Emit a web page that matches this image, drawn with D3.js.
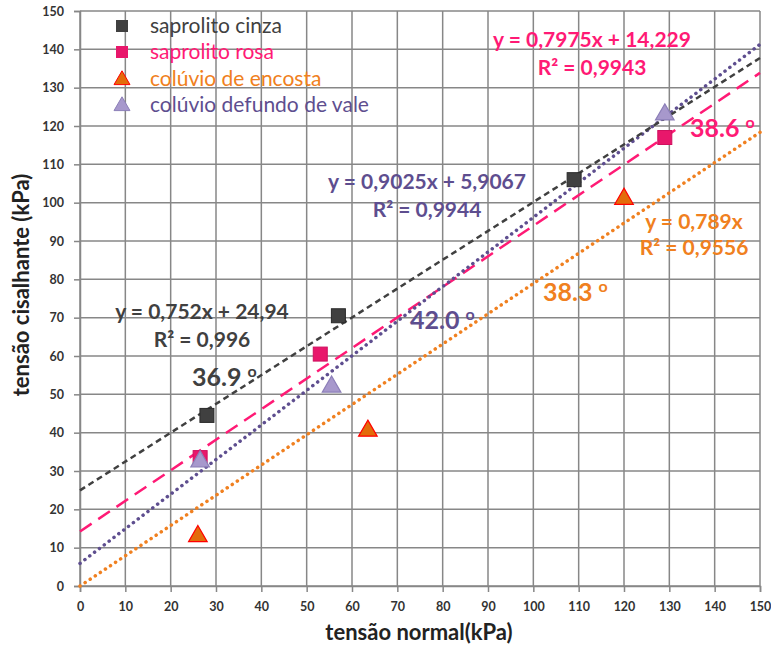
<!DOCTYPE html>
<html><head><meta charset="utf-8">
<script src="https://cdn.jsdelivr.net/npm/d3@7"></script>
<style>body{margin:0;background:#fff}svg{display:block}text{font-family:Lato,"Open Sans",sans-serif}</style>
</head><body><svg id="c" width="771" height="648"></svg>
<script>
const seriesNames = ["saprolito cinza","saprolito rosa","colúvio de encosta","colúvio defundo de vale"];
const cinzaX = [28, 57, 109], cinzaY = [44.5, 70.5, 106];
const rosaX = [26.5, 53, 129], rosaY = [33.5, 60.5, 117];
const encostaX = [26, 63.5, 120], encostaY = [13.5, 41, 101.5];
const valeX = [26.5, 55.5, 129], valeY = [33, 52.5, 123.5];
const slopes = [0.752, 0.7975, 0.789, 0.9025];
const intercepts = [24.94, 14.229, 0, 5.9067];
const eqLabels = [["y = 0,752x + 24,94","R² = 0,996"],["y = 0,7975x + 14,229","R² = 0,9943"],["y = 0,789x","R² = 0,9556"],["y = 0,9025x + 5,9067","R² = 0,9944"]];
const angleLabels = ["36.9","38.6","38.3","42.0"];
const xTicks = d3.range(0,151,10), yTicks = d3.range(0,151,10);

const svg = d3.select("#c");
const x = d3.scaleLinear().domain([0,150]).range([80,760]);
const y = d3.scaleLinear().domain([0,150]).range([586,11]);
const colors = ["#404040","#ff1a75","#f08020","#5e4e8f"];
const lineCol = ["#404040","#ff1a75","#f08020","#5e4e8f"];

// grid
const g = svg.append("g");
g.selectAll(".vx").data(xTicks).join("line").attr("x1",d=>x(d)).attr("x2",d=>x(d)).attr("y1",y(0)).attr("y2",y(150)).attr("stroke","#878787").attr("stroke-width",1.5);
g.selectAll(".hy").data(yTicks).join("line").attr("y1",d=>y(d)).attr("y2",d=>y(d)).attr("x1",x(0)).attr("x2",x(150)).attr("stroke","#878787").attr("stroke-width",1.5);

// axes
const xa = svg.append("g").attr("transform",`translate(0,${y(0)})`).call(d3.axisBottom(x).tickValues(xTicks).tickSize(6).tickPadding(10));
const ya = svg.append("g").attr("transform",`translate(${x(0)},0)`).call(d3.axisLeft(y).tickValues(yTicks).tickSize(6).tickPadding(10));
[xa,ya].forEach(a=>{a.select(".domain").attr("stroke","#878787").attr("stroke-width",1.5);
 a.selectAll(".tick line").attr("stroke","#878787").attr("stroke-width",1.5);
 a.selectAll("text").attr("font-size",12.5).attr("font-weight","bold").attr("fill","#333").style("font-family","Lato");});

// trendlines
const dashes = ["6,4","14,8","0.1,6","0.1,6"];
const caps = ["butt","butt","round","round"];
const widths = [2.5,2.5,3.5,3.5];
const order = [2,1,3,0];
order.forEach(i=>{
  svg.append("line").attr("x1",x(0)).attr("y1",y(intercepts[i])).attr("x2",x(150)).attr("y2",y(intercepts[i]+slopes[i]*150))
   .attr("stroke",lineCol[i]).attr("stroke-width",widths[i]).attr("stroke-dasharray",dashes[i]).attr("stroke-linecap",caps[i]);
});

// markers
function square(xs,ys,fill,stroke){svg.append("g").selectAll("rect").data(xs.map((v,k)=>[v,ys[k]])).join("rect")
 .attr("x",d=>x(d[0])-7).attr("y",d=>y(d[1])-7).attr("width",14).attr("height",14).attr("fill",fill).attr("stroke",stroke).attr("stroke-width",1);}
function tri(xs,ys,fill,stroke){svg.append("g").selectAll("path").data(xs.map((v,k)=>[v,ys[k]])).join("path")
 .attr("d",d3.symbol(d3.symbolTriangle,150)).attr("transform",d=>`translate(${x(d[0])},${y(d[1])+2})`).attr("fill",fill).attr("stroke",stroke).attr("stroke-width",1.2);}
square(cinzaX,cinzaY,"#404040","#2a2a2a");
square(rosaX,rosaY,"#e8176b","#d0105f");
tri(encostaX,encostaY,"#e36c0a","#ff0000");
tri(valeX,valeY,"#a798cc","#8c7fb8");

// legend
const legY=[26,52,79,105];
seriesNames.forEach((n,i)=>{
  const cy=legY[i];
  if(i<2) svg.append("rect").attr("x",116).attr("y",cy-6).attr("width",12).attr("height",12).attr("fill",i==0?"#404040":"#e8176b");
  else svg.append("path").attr("d",d3.symbol(d3.symbolTriangle,110)).attr("transform",`translate(122,${cy+1})`).attr("fill",i==2?"#e36c0a":"#a798cc").attr("stroke",i==2?"#ff0000":"#8c7fb8");
  svg.append("text").attr("x",150).attr("y",cy+7).attr("font-size",21).attr("fill",colors[i]).text(n);
});

// equations
const eqPos = [[202,312,340],[592,40,68],[694,222,248],[427,182,210]];
eqLabels.forEach((l,i)=>{
  const p=eqPos[i];
  svg.append("text").attr("x",p[0]).attr("y",p[1]+7).attr("text-anchor","middle").attr("font-size",21).attr("font-weight","bold").attr("fill",colors[i]).text(l[0]);
  svg.append("text").attr("x",p[0]).attr("y",p[2]+7).attr("text-anchor","middle").attr("font-size",21).attr("font-weight","bold").attr("fill",colors[i]).text(l[1]);
});
const angPos = [[192,377],[690,128],[543,292],[410,320]];
angleLabels.forEach((a,i)=>{
  const t=svg.append("text").attr("x",angPos[i][0]).attr("y",angPos[i][1]+9).attr("font-size",25).attr("font-weight","bold").attr("fill",colors[i]);
  t.append("tspan").text(a+" ");
  t.append("tspan").attr("font-size",16).attr("dy",-9).text("o");
});

// axis titles
svg.append("text").attr("x",419).attr("y",640).attr("text-anchor","middle").attr("font-size",22).attr("font-weight","bold").attr("fill","#222").text("tensão normal(kPa)");
svg.append("text").attr("transform","translate(29,285) rotate(-90)").attr("text-anchor","middle").attr("font-size",22).attr("font-weight","bold").attr("fill","#222").text("tensão cisalhante (kPa)");
</script></body></html>
